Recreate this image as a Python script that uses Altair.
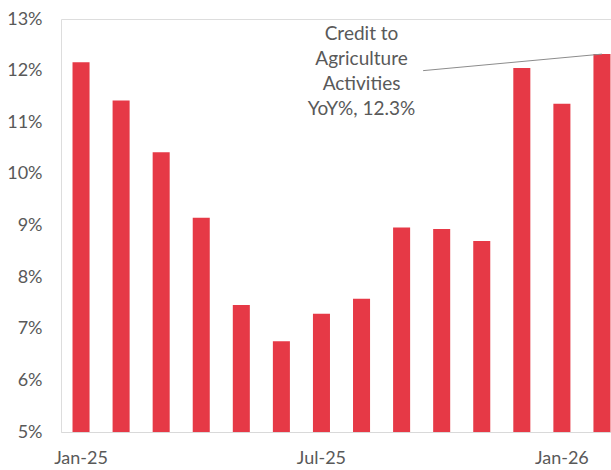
import altair as alt
import pandas as pd

months = ["Jan-25", "Feb-25", "Mar-25", "Apr-25", "May-25", "Jun-25", "Jul-25",
          "Aug-25", "Sep-25", "Oct-25", "Nov-25", "Dec-25", "Jan-26", "Feb-26"]
yoy = [12.16, 11.42, 10.42, 9.15, 7.46, 6.76, 7.29,
       7.58, 8.96, 8.93, 8.70, 12.05, 11.36, 12.32]
shown_labels = ["Jan-25", "Jul-25", "Jan-26"]
y_ticks = [5, 6, 7, 8, 9, 10, 11, 12, 13]
note_lines = ["Credit to", "Agriculture", "Activities", "YoY%, 12.3%"]
note_month = "Aug-25"
note_value = 12.0
leader_from = "Sep-25"
y_base = 5

FONT = "Lato"
GREY = "#595959"
RED = "#E63946"

df = pd.DataFrame({"month": months, "yoy": yoy})
note_df = pd.DataFrame({"month": [note_month], "yoy": [note_value], "label": [note_lines]})
leader_df = pd.DataFrame({"m1": [leader_from], "m2": [months[-1]],
                          "y1": [note_value], "y2": [yoy[-1]]})

x_scale = alt.Scale(domain=months, range=[0, 561], paddingInner=0.575, paddingOuter=0.2875)
y_scale = alt.Scale(domain=[5, 13], nice=False, zero=False)

label_expr = "indexof(" + str(shown_labels) + ", datum.value) >= 0 ? datum.value : ''"

x_axis = alt.Axis(labelAngle=0, labelExpr=label_expr, ticks=False,
                  domainColor="#D9D9D9", domainWidth=1.2,
                  labelFont=FONT, labelFontSize=18, labelColor=GREY,
                  labelPadding=17, labelOverlap=False)
y_axis = alt.Axis(values=y_ticks, labelExpr="datum.value + '%'", grid=False,
                  domain=False, ticks=False, labelFont=FONT, labelFontSize=18,
                  labelColor=GREY, labelPadding=19)

bars = alt.Chart(df).mark_bar(color=RED).encode(
    x=alt.X("month:N", sort=months, scale=x_scale, title=None, axis=x_axis),
    y=alt.Y("yoy:Q", scale=y_scale, title=None, axis=y_axis),
    y2=alt.datum(y_base),
)

leader = alt.Chart(leader_df).mark_rule(color="#8C8C8C", strokeWidth=1, xOffset=13).encode(
    x=alt.X("m1:N", sort=months, scale=x_scale, bandPosition=1, title=None, axis=x_axis),
    x2="m2:N",
    y=alt.Y("y1:Q", scale=y_scale, title=None, axis=y_axis),
    y2="y2:Q",
)

note = alt.Chart(note_df).mark_text(font=FONT, fontSize=19, color=GREY, align="center",
                                   baseline="middle", lineHeight=25, dy=-37).encode(
    x=alt.X("month:N", sort=months, scale=x_scale, title=None, axis=x_axis),
    y=alt.Y("yoy:Q", scale=y_scale, title=None, axis=y_axis),
    text="label",
)

chart = alt.layer(bars, leader, note).properties(
    width=550, height=413,
    autosize=alt.AutoSizeParams(type="none"),
    padding={"left": 61, "top": 19, "right": 0, "bottom": 38},
).configure_view(strokeWidth=0, stroke="transparent").configure(background="white")

chart.save("out.html", embed_options={"renderer": "svg", "actions": False})
